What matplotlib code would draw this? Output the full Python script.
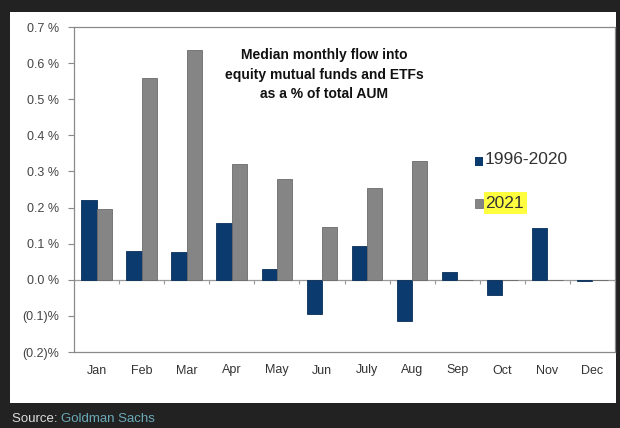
import matplotlib
matplotlib.use("Agg")
import matplotlib.pyplot as plt
from matplotlib import font_manager
import numpy as np
from matplotlib.patches import Rectangle

months = ["Jan", "Feb", "Mar", "Apr", "May", "Jun", "July", "Aug", "Sep", "Oct", "Nov", "Dec"]
hist_1996_2020 = [0.222, 0.080, 0.078, 0.158, 0.030, -0.094, 0.094, -0.114, 0.022, -0.042, 0.144, -0.003]
y2021 = [0.197, 0.560, 0.636, 0.320, 0.278, 0.147, 0.253, 0.330, 0.0, 0.0, 0.0, 0.0]
yticks = [-0.2, -0.1, 0.0, 0.1, 0.2, 0.3, 0.4, 0.5, 0.6, 0.7]
ytick_labels = ["(0.2)%", "(0.1)%", "0.0 %", "0.1 %", "0.2 %", "0.3 %", "0.4 %", "0.5 %", "0.6 %", "0.7 %"]
title = "Median monthly flow into\nequity mutual funds and ETFs\nas a % of total AUM"
legend_labels = ["1996-2020", "2021"]

plt.rcParams['font.family'] = ['Liberation Sans', 'DejaVu Sans']
names = {f.name for f in font_manager.fontManager.ttflist}
narrow = 'Liberation Sans Narrow' in names
title_family = ['Liberation Sans Narrow', 'Liberation Sans'] if narrow else ['Liberation Sans']
title_size = 12.2 if narrow else 10

W, H = 620, 428
fig = plt.figure(figsize=(W/100, H/100), dpi=100, facecolor="#222222")
# white panel
fig.patches.append(Rectangle((10/W, 1-403/H), (616-10)/W, (403-12)/H,
                             transform=fig.transFigure, facecolor="white", edgecolor="none", zorder=-5))

ax = fig.add_axes([74/W, 1-352/H, (615-74)/W, (352-27)/H])
ax.set_facecolor("white")
x = np.arange(len(months))
bw = 0.34
blue = "#0b3a6e"
gray = "#858585"
ax.bar(x - bw/2, hist_1996_2020, bw, color=blue, edgecolor="#0a2f5a", linewidth=0.6, zorder=3)
ax.bar(x + bw/2, y2021, bw, color=gray, edgecolor="#6a6a6a", linewidth=0.6, zorder=3)

ax.set_xlim(-0.5, len(months) - 0.5)
ax.set_ylim(-0.2, 0.7)
ax.set_yticks(yticks)
ax.set_yticklabels(ytick_labels)
ax.set_xticks(x)
ax.set_xticklabels(months)
ax.tick_params(axis="x", length=0, pad=9, labelsize=9, labelcolor="#333333")
ax.tick_params(axis="y", length=4, width=0.8, color="#888888", pad=7, labelsize=9, labelcolor="#444444")
for s in ax.spines.values():
    s.set_color("#8a8a8a")
    s.set_linewidth(0.9)
ax.axhline(0, color="#9a9a9a", linewidth=0.9, zorder=2)
bounds = np.arange(0.5, len(months) - 0.5, 1.0)
ax.vlines(bounds, -0.012, 0, color="#9a9a9a", linewidth=0.8, zorder=2)

ax.text(324/W, 1-75/H, title, transform=fig.transFigure, ha="center", va="center",
        fontsize=title_size, fontweight="bold", family=title_family, color="#111111",
        linespacing=1.5, zorder=5)

# legend
fig.patches.append(Rectangle((475/W, 1-166/H), 8/W, 9/H, transform=fig.transFigure,
                             facecolor=blue, edgecolor="none", zorder=5))
fig.text(485/W, 1-160/H, legend_labels[0], fontsize=12.5, color="#333333", va="center", ha="left", zorder=6)
fig.patches.append(Rectangle((475/W, 1-208/H), 8/W, 9/H, transform=fig.transFigure,
                             facecolor=gray, edgecolor="#666666", linewidth=0.5, zorder=5))
fig.patches.append(Rectangle((484/W, 1-214/H), 43/W, 22/H, transform=fig.transFigure,
                             facecolor="#ffff40", edgecolor="none", zorder=5))
fig.text(485/W, 1-203/H, legend_labels[1], fontsize=12.5, color="#333333", va="center", ha="left", zorder=6)

# source
t = fig.text(12/W, 1-419/H, "Source: ", fontsize=9.5, color="#dddddd", va="center", ha="left")
fig.canvas.draw()
bb = t.get_window_extent()
fig.text(bb.x1/W, 1-419/H, "Goldman Sachs", fontsize=9.5, color="#6aaab8", va="center", ha="left")

fig.savefig("out.png", dpi=100, facecolor=fig.get_facecolor())
